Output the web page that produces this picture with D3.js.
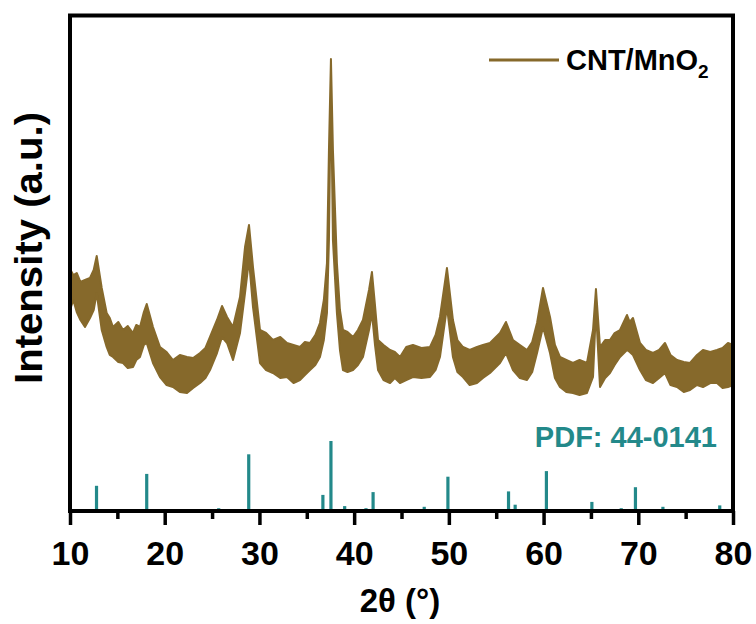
<!DOCTYPE html>
<html>
<head>
<meta charset="utf-8">
<script src="https://cdn.jsdelivr.net/npm/d3@7"></script>
<style>
  body { margin: 0; background: #fff; }
  text { font-family: "Liberation Sans", Arial, sans-serif; font-weight: bold; }
</style>
</head>
<body>
<svg id="xrd_svg" width="756" height="624"></svg>
<script>
// XRD pattern of CNT/MnO2 (upper / lower edge of the noisy band)
const theta = [
    10.00, 10.35, 10.71, 11.10, 11.58, 12.11, 12.50, 12.82, 13.35, 13.87,
    14.20, 14.54, 15.10, 15.60, 16.10, 16.65, 17.00, 17.39, 17.80, 18.10,
    18.76, 19.50, 20.20, 20.87, 21.60, 22.35, 23.00, 23.73, 24.30, 24.78,
    25.52, 26.05, 26.58, 27.21, 27.95, 28.48, 28.90, 29.32, 30.06, 30.70,
    31.43, 32.20, 32.91, 33.60, 34.28, 34.80, 35.34, 35.90, 36.39, 36.80,
    37.13, 37.34, 37.55, 37.76, 38.18, 38.50, 38.82, 39.30, 39.88, 40.40,
    40.93, 41.57, 41.88, 42.20, 42.52, 43.10, 43.79, 44.30, 44.84, 45.50,
    46.21, 47.10, 48.01, 48.60, 49.06, 49.80, 50.43, 50.90, 51.49, 52.20,
    52.97, 53.60, 54.34, 55.40, 56.03, 56.77, 57.50, 58.25, 58.80, 59.31,
    59.94, 60.68, 61.20, 61.73, 62.40, 63.10, 63.80, 64.58, 65.22, 65.53,
    65.96, 66.50, 67.01, 67.50, 68.07, 68.81, 69.10, 69.44, 70.18, 70.80,
    71.55, 72.20, 72.82, 73.40, 74.09, 74.80, 75.46, 76.20, 76.83, 77.60,
    78.31, 78.90, 79.47, 80.00];
const upper = [
    486, 474, 478, 460, 464, 468, 484, 512, 448, 398,
    388, 370, 380, 364, 372, 358, 374, 370, 400, 416,
    370, 330, 320, 304, 314, 310, 308, 318, 328, 350,
    384, 412, 390, 370, 430, 530, 574, 490, 364, 358,
    344, 350, 338, 334, 330, 340, 338, 354, 378, 424,
    498, 724, 906, 724, 498, 404, 364, 360, 350, 364,
    384, 444, 480, 414, 344, 334, 324, 320, 310, 330,
    334, 328, 330, 354, 390, 488, 384, 344, 330, 324,
    330, 334, 338, 358, 380, 344, 334, 324, 340, 378,
    448, 390, 334, 310, 304, 298, 304, 298, 364, 446,
    330, 344, 344, 358, 364, 394, 380, 388, 338, 324,
    318, 324, 338, 314, 304, 300, 298, 314, 324, 320,
    324, 328, 338, 334];
const lower = [
    404, 424, 400, 384, 370, 388, 404, 438, 364, 330,
    314, 310, 300, 298, 288, 290, 304, 310, 334, 338,
    298, 270, 254, 250, 240, 238, 248, 258, 268, 284,
    318, 350, 338, 304, 358, 438, 504, 410, 298, 284,
    278, 268, 270, 258, 264, 274, 284, 294, 310, 344,
    398, 544, 864, 544, 398, 324, 284, 280, 284, 294,
    310, 364, 398, 334, 284, 264, 258, 268, 258, 264,
    270, 268, 270, 284, 310, 410, 310, 280, 270, 254,
    258, 268, 278, 298, 318, 284, 268, 264, 280, 318,
    370, 318, 268, 250, 240, 238, 234, 238, 270, 404,
    250, 268, 278, 294, 310, 324, 320, 314, 284, 264,
    258, 268, 278, 254, 250, 240, 244, 254, 250, 258,
    258, 248, 250, 254];

// Reference pattern PDF 44-0141
const refPos = [12.8, 18.1, 25.7, 28.87, 36.7, 37.55, 39.0, 41.25, 42.0, 46.1,
    47.4, 49.9, 52.9, 56.3, 57.0, 60.3, 65.1, 66.7, 67.5, 68.2,
    69.7, 71.2, 72.6, 73.7, 77.1, 78.6];
const refInt = [36, 53, 4, 81, 23, 100, 7, 4, 27, 2,
    6, 49, 2, 28, 9, 57, 13, 2, 2, 4,
    34, 2, 6, 2, 2, 8];

const majorTicks = [10, 20, 30, 40, 50, 60, 70, 80];
const minorTicks = [15, 25, 35, 45, 55, 65, 75];

const curveColor = "#86692b";
const refColor = "#23898a";

const svg = d3.select("#xrd_svg");
const plotLeft = 70, plotRight = 733, plotTop = 15.5, plotBottom = 511;

const xScale = d3.scaleLinear().domain([10, 80]).range([plotLeft, plotRight]);
const yScale = d3.scaleLinear().domain([0, 994]).range([512, 15]);
const refScale = d3.scaleLinear().domain([0, 100]).range([plotBottom, plotBottom - 70]);

// reference sticks
svg.append("g")
    .selectAll("line")
    .data(refPos)
    .enter()
    .append("line")
    .attr("x1", d => xScale(d))
    .attr("x2", d => xScale(d))
    .attr("y1", plotBottom)
    .attr("y2", (d, i) => refScale(refInt[i]))
    .attr("stroke", refColor)
    .attr("stroke-width", 3.2);

// XRD curve drawn as its noisy band
const band = d3.area()
    .x((d, i) => xScale(theta[i]))
    .y0((d, i) => yScale(lower[i]))
    .y1((d, i) => yScale(upper[i]));

svg.append("path")
    .datum(theta)
    .attr("fill", curveColor)
    .attr("stroke", curveColor)
    .attr("stroke-width", 2)
    .attr("stroke-linejoin", "round")
    .attr("d", band);

// frame
svg.append("rect")
    .attr("x", plotLeft).attr("y", plotTop)
    .attr("width", plotRight - plotLeft).attr("height", plotBottom - plotTop)
    .attr("fill", "none")
    .attr("stroke", "#000")
    .attr("stroke-width", 4);

// bottom axis, major + minor ticks
const gMajor = svg.append("g")
    .attr("transform", `translate(0, ${plotBottom})`)
    .call(d3.axisBottom(xScale).tickValues(majorTicks).tickSize(14).tickPadding(16).tickFormat(d3.format("d")));
gMajor.select(".domain").remove();
gMajor.selectAll(".tick line").attr("stroke", "#000").attr("stroke-width", 3.5);
gMajor.selectAll(".tick text")
    .attr("fill", "#000")
    .style("font-size", "34px")
    .style("font-family", "'Liberation Sans', Arial, sans-serif")
    .style("font-weight", "bold");

const gMinor = svg.append("g")
    .attr("transform", `translate(0, ${plotBottom})`)
    .call(d3.axisBottom(xScale).tickValues(minorTicks).tickSize(8).tickFormat(""));
gMinor.select(".domain").remove();
gMinor.selectAll(".tick line").attr("stroke", "#000").attr("stroke-width", 3.5);

// axis titles
svg.append("text")
    .attr("x", 400).attr("y", 612)
    .attr("text-anchor", "middle")
    .style("font-size", "33px")
    .text("2θ (°)");

svg.append("text")
    .attr("transform", "translate(42, 248) rotate(-90)")
    .attr("text-anchor", "middle")
    .style("font-size", "38px")
    .attr("textLength", 272)
    .attr("lengthAdjust", "spacingAndGlyphs")
    .text("Intensity (a.u.)");

// legend
svg.append("line")
    .attr("x1", 489).attr("x2", 559)
    .attr("y1", 60).attr("y2", 60)
    .attr("stroke", curveColor)
    .attr("stroke-width", 3);

const legText = svg.append("text")
    .attr("x", 566).attr("y", 70)
    .style("font-size", "29px")
    .attr("fill", "#000");
legText.append("tspan").text("CNT/MnO");
legText.append("tspan").attr("dy", 8).style("font-size", "19px").text("2");

svg.append("text")
    .attr("x", 717).attr("y", 447)
    .attr("text-anchor", "end")
    .attr("fill", refColor)
    .style("font-size", "29px")
    .text("PDF: 44-0141");
</script>
</body>
</html>
